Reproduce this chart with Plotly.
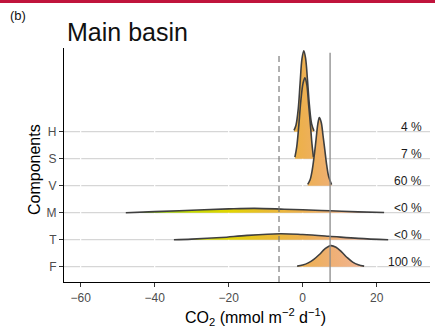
import plotly.graph_objects as go

# ---------------- data ----------------
components = ["F", "T", "M", "V", "S", "H"]          # bottom -> top
pct_labels = ["100 %", "<0 %", "<0 %", "60 %", "7 %", "4 %"]

H_x = [-2.35, -1.8, -1.2, -0.7, -0.2, 0.3, 0.8, 1.3, 1.8, 2.4, 3.05]
H_y = [0.05, 0.25, 0.85, 1.8, 2.7, 3.0, 2.7, 1.9, 1.0, 0.3, 0.03]

S_x = [-2.1, -1.6, -1.1, -0.5, 0.1, 0.6, 1.1, 1.6, 2.15, 2.5, 2.9]
S_y = [0.06, 0.45, 1.15, 2.15, 2.8, 3.0, 2.75, 2.0, 1.15, 0.55, 0.06]

V_x = [1.35, 2.0, 2.6, 3.1, 3.6, 4.1, 4.5, 5.0, 5.5, 6.0, 6.5, 7.0, 7.8]
V_y = [0.05, 0.22, 0.6, 1.1, 1.7, 2.3, 2.52, 2.35, 1.85, 1.3, 0.75, 0.35, 0.04]

M_x = [-47.8, -40, -30, -20, -13, -5, 0, 7.4, 15, 22]
M_y = [0.0, 0.04, 0.09, 0.14, 0.16, 0.13, 0.11, 0.07, 0.03, 0.005]

T_x = [-34.8, -30, -22, -15, -6, 0, 7, 15, 23.1]
T_y = [0.0, 0.02, 0.08, 0.16, 0.22, 0.19, 0.13, 0.05, 0.0]

F_x = [-1.5, 0, 1.5, 3, 4.5, 6, 7.6, 9, 10.5, 12, 13.5, 15, 16.6]
F_y = [0.02, 0.06, 0.14, 0.27, 0.45, 0.66, 0.78, 0.72, 0.55, 0.34, 0.17, 0.07, 0.02]

dashed_ref = -6.4
solid_ref = 7.4
x_ticks = [-60, -40, -20, 0, 20]
x_tick_text = ["\u221260", "\u221240", "\u221220", "0", "20"]

# ---------------- figure ----------------
ridges = {"H": (H_x, H_y), "S": (S_x, S_y), "V": (V_x, V_y),
          "M": (M_x, M_y), "T": (T_x, T_y), "F": (F_x, F_y)}
draw_order = ["H", "S", "V", "M", "T", "F"]

grad = dict(
    type="horizontal", start=-50, stop=20,
    colorscale=[
        [0.0, "#30a000"], [0.143, "#86c400"], [0.286, "#c4da00"],
        [0.429, "#e2d600"], [0.571, "#e9bc30"], [0.714, "#edb04f"],
        [0.829, "#efb075"], [1.0, "#f3b8a2"],
    ],
)

FONT = "Liberation Sans, Arial, Helvetica, sans-serif"
fig = go.Figure()
for name in draw_order:
    xs, ys = ridges[name]
    base = components.index(name)
    fig.add_trace(go.Scatter(
        x=[xs[0], xs[-1]], y=[base, base], mode="lines",
        line=dict(width=0, color="rgba(0,0,0,0)"), hoverinfo="skip", showlegend=False))
    fig.add_trace(go.Scatter(
        x=xs, y=[base + v for v in ys], mode="lines", fill="tonexty",
        fillgradient=grad, line=dict(color="#3f3f3f", width=1.6, shape="spline", smoothing=1),
        showlegend=False, name=name))

shapes = []
for i, _ in enumerate(components):
    shapes.append(dict(type="line", xref="paper", x0=0, x1=1, yref="y", y0=i, y1=i,
                       line=dict(color="#d6d6d6", width=1.2), layer="between"))
for t in x_ticks:
    shapes.append(dict(type="line", xref="x", x0=t, x1=t, yref="paper", y0=0, y1=1,
                       line=dict(color="white", width=1.2), layer="between"))
shapes.append(dict(type="line", xref="x", x0=dashed_ref, x1=dashed_ref, yref="paper", y0=0, y1=0.98,
                   line=dict(color="#707070", width=1.1, dash="6px,4px"), layer="above"))
shapes.append(dict(type="line", xref="x", x0=solid_ref, x1=solid_ref, yref="paper", y0=0, y1=0.98,
                   line=dict(color="#8a8a8a", width=1.3), layer="above"))
shapes.append(dict(type="rect", xref="paper", yref="paper", x0=-0.2, x1=1.05,
                   y0=1.192, y1=1.21, line=dict(width=0), fillcolor="#c0143c", layer="above"))

annotations = []
for i, lab in enumerate(pct_labels):
    annotations.append(dict(x=1, xref="paper", xshift=-6, y=i, yref="y", yshift=5,
                            text=lab, showarrow=False, xanchor="right", yanchor="middle",
                            font=dict(family=FONT, size=12, color="#1a1a1a")))
annotations.append(dict(x=0.003, xref="paper", y=1.07, yref="paper", text="Main basin",
                        showarrow=False, xanchor="left", yanchor="middle",
                        font=dict(family=FONT, size=25, color="#111")))
annotations.append(dict(x=-0.153, xref="paper", y=1.14, yref="paper", text="(b)",
                        showarrow=False, xanchor="left", yanchor="middle",
                        font=dict(family=FONT, size=13, color="#111")))
annotations.append(dict(x=0.522, xref="paper", y=-0.15, yref="paper",
                        text="CO<sub>2</sub> (mmol m<sup>\u22122</sup> d<sup>\u22121</sup>)",
                        showarrow=False, xanchor="center", yanchor="middle",
                        font=dict(family=FONT, size=16, color="black")))
annotations.append(dict(x=-0.079, xref="paper", y=0.479, yref="paper", text="Components",
                        textangle=-90, showarrow=False, xanchor="center", yanchor="middle",
                        font=dict(family=FONT, size=16, color="black")))

fig.update_layout(
    width=435, height=333,
    margin=dict(l=64, r=5, t=48, b=51, autoexpand=False),
    paper_bgcolor="white", plot_bgcolor="white",
    shapes=shapes, annotations=annotations,
    font=dict(family=FONT),
    xaxis=dict(range=[-64.5, 34.4], tickvals=x_ticks, ticktext=x_tick_text, automargin=False,
               showgrid=False, zeroline=False, showline=True, linecolor="black", linewidth=1.2,
               ticks="outside", ticklen=4, tickcolor="#333", tickwidth=1,
               tickfont=dict(size=12, color="#4d4d4d", family=FONT)),
    yaxis=dict(range=[-0.567, 8.1], tickvals=list(range(len(components))), ticktext=components,
               automargin=False,
               showgrid=False, zeroline=False, showline=True, linecolor="black", linewidth=1.2,
               ticks="outside", ticklen=4, tickcolor="#333", tickwidth=1,
               tickfont=dict(size=12, color="#4d4d4d", family=FONT)),
)

fig.write_html("out.html", config={"displayModeBar": False},
               post_script="document.body.style.margin='0';document.body.style.overflow='hidden';")
